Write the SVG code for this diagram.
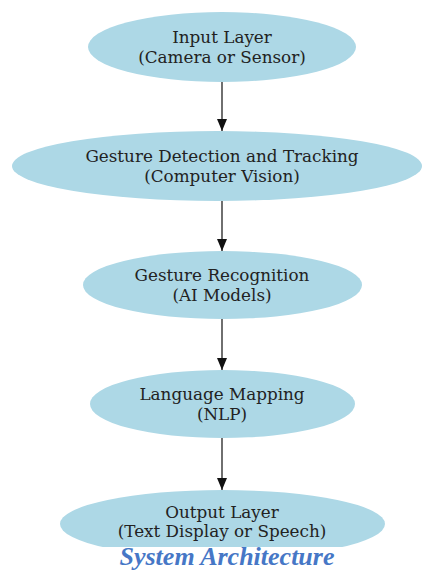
<svg xmlns="http://www.w3.org/2000/svg" width="423" height="575" viewBox="0 0 423 575">
<defs>
<style>
.node ellipse{fill:#add8e6;stroke:none}
.node text{font-family:"DejaVu Serif",serif;font-size:16.8px;fill:#222;text-anchor:middle}
.edge line{stroke:#222;stroke-width:1.3}
.cap{font-family:"Liberation Serif",serif;font-size:26px;font-weight:bold;font-style:italic;fill:#4677c6;text-anchor:middle}
</style>
<marker id="ah" viewBox="0 0 12 10" refX="12" refY="5" markerWidth="12" markerHeight="10" markerUnits="userSpaceOnUse" orient="auto">
<path d="M0,0 L12,5 L0,10 Z" fill="#111"/>
</marker>
</defs>
<rect width="423" height="575" fill="#fff"/>
<g id="edges" class="edge">
<line x1="222" y1="82" x2="222" y2="131" marker-end="url(#ah)"/>
<line x1="222" y1="201" x2="222" y2="251" marker-end="url(#ah)"/>
<line x1="222" y1="319" x2="222" y2="370" marker-end="url(#ah)"/>
<line x1="222" y1="438" x2="222" y2="490" marker-end="url(#ah)"/>
</g>
<g id="n1" class="node">
<ellipse cx="222" cy="47" rx="134" ry="35"/>
<text x="222" y="43">Input Layer</text>
<text x="222" y="63">(Camera or Sensor)</text>
</g>
<g id="n2" class="node">
<ellipse cx="217" cy="166" rx="205" ry="35"/>
<text x="222" y="162">Gesture Detection and Tracking</text>
<text x="222" y="182">(Computer Vision)</text>
</g>
<g id="n3" class="node">
<ellipse cx="222.5" cy="285" rx="139.5" ry="34"/>
<text x="222" y="281">Gesture Recognition</text>
<text x="222" y="301">(AI Models)</text>
</g>
<g id="n4" class="node">
<ellipse cx="222.5" cy="404" rx="132.5" ry="34"/>
<text x="222" y="400">Language Mapping</text>
<text x="222" y="420">(NLP)</text>
</g>
<g id="n5" class="node">
<ellipse cx="222.5" cy="524" rx="162.5" ry="34"/>
<text x="222" y="518">Output Layer</text>
<text x="222" y="537">(Text Display or Speech)</text>
</g>
<rect x="0" y="547" width="423" height="28" fill="#fff"/>
<text class="cap" x="227" y="565">System Architecture</text>
</svg>
